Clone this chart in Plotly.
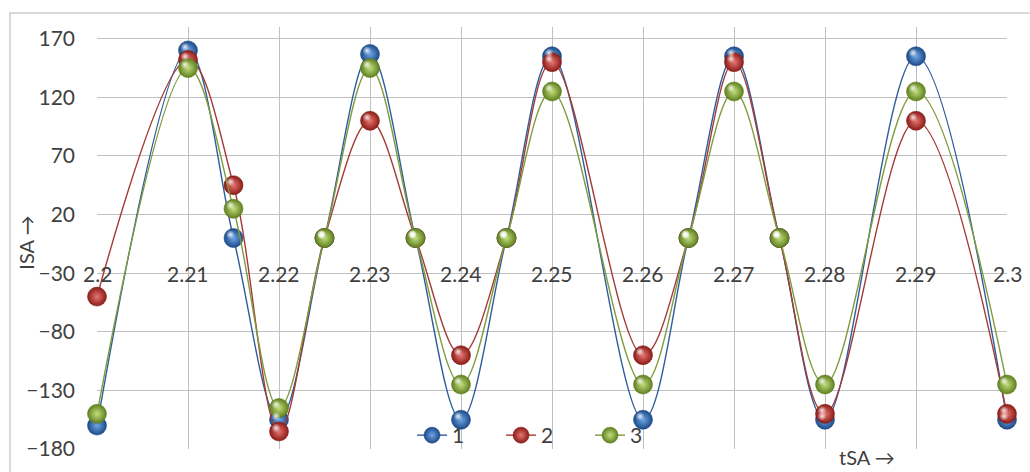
import plotly.graph_objects as go

# Sample times (s) and currents for the three phases
t_sa = [2.2, 2.21, 2.215, 2.22, 2.225, 2.23, 2.235, 2.24, 2.245, 2.25,
        2.26, 2.265, 2.27, 2.275, 2.28, 2.29, 2.3]
i_phase1 = [-160, 160, 0, -155, 0, 157, 0, -155, 0, 155,
            -155, 0, 155, 0, -155, 155, -155]
i_phase2 = [-50, 152, 45, -165, 0, 100, 0, -100, 0, 150,
            -100, 0, 150, 0, -150, 100, -150]
i_phase3 = [-150, 145, 25, -145, 0, 145, 0, -125, 0, 125,
            -125, 0, 125, 0, -125, 125, -125]

series_names = ["1", "2", "3"]
x_ticks = [2.2, 2.21, 2.22, 2.23, 2.24, 2.25, 2.26, 2.27, 2.28, 2.29, 2.3]
x_tick_labels = ["2.2", "2.21", "2.22", "2.23", "2.24", "2.25",
                 "2.26", "2.27", "2.28", "2.29", "2.3"]
y_ticks = [-180, -130, -80, -30, 20, 70, 120, 170]

X_RANGE = [2.2, 2.3]
Y_RANGE = [-180, 180]

FONT = "Lato"
TEXT_COLOR = "#404040"

# line colour, sphere edge colour, sphere centre colour
styles = [
    ("#2F5D9B", "#1C4A88", "#6FA6E6"),
    ("#A33A36", "#8A1C18", "#E87570"),
    ("#7F9B3C", "#5F8020", "#C2DE7C"),
]

fig = go.Figure()
for name, ys, (lc, edge, centre) in zip(series_names,
                                        [i_phase1, i_phase2, i_phase3], styles):
    fig.add_trace(go.Scatter(
        x=t_sa, y=ys, name=name, mode="lines+markers", cliponaxis=False,
        line=dict(color=lc, width=1.4, shape="spline", smoothing=1),
        marker=dict(size=19, color=edge,
                    gradient=dict(type="radial", color=centre),
                    line=dict(width=0.6, color=edge)),
    ))
    # glossy highlight on each sphere, drawn on a slightly shifted overlay
    # axis pair so it sits towards the upper-left of the marker
    fig.add_trace(go.Scatter(
        x=t_sa, y=ys, mode="markers", showlegend=False, hoverinfo="skip",
        xaxis="x2", yaxis="y2", cliponaxis=False,
        marker=dict(size=9, color="rgba(255,255,255,0)",
                    gradient=dict(type="radial",
                                  color="rgba(255,255,255,0.85)"),
                    line=dict(width=0)),
    ))

# Time labels sit on the -30 grid line
for xv, lab in zip(x_ticks, x_tick_labels):
    fig.add_annotation(x=xv, y=-30, xref="x", yref="y", text=lab,
                       showarrow=False, xanchor="center", yanchor="middle",
                       font=dict(family=FONT, size=21, color=TEXT_COLOR))

fig.add_annotation(x=-0.0775, y=0.49, xref="paper", yref="paper",
                   text="ISA →", textangle=-90, showarrow=False,
                   xanchor="center", yanchor="middle",
                   font=dict(family=FONT, size=20, color=TEXT_COLOR))
fig.add_annotation(x=0.846, y=-0.019, xref="paper", yref="paper",
                   text="tSA →", showarrow=False,
                   xanchor="center", yanchor="middle",
                   font=dict(family=FONT, size=20, color=TEXT_COLOR))

# chart-area frame
fig.add_shape(type="rect", xref="paper", yref="paper",
              x0=-0.0956, x1=1.2, y0=-0.2, y1=1.033,
              line=dict(color="#CCCCCC", width=1.5), layer="below")

# highlight offset: about 3 px left and 3 px up
dx = 3.0 / 910 * (X_RANGE[1] - X_RANGE[0])
dy = 3.5 / 425 * (Y_RANGE[1] - Y_RANGE[0])

fig.update_layout(
    width=1030, height=472,
    margin=dict(l=97, r=23, t=27, b=20),
    paper_bgcolor="white", plot_bgcolor="white",
    font=dict(family=FONT, size=21, color=TEXT_COLOR),
    showlegend=True,
    legend=dict(orientation="h", x=0.3462, y=0.032, xanchor="left",
                yanchor="middle", bgcolor="rgba(0,0,0,0)",
                font=dict(family=FONT, size=21, color=TEXT_COLOR),
                entrywidth=44, entrywidthmode="pixels", tracegroupgap=0),
    xaxis=dict(range=X_RANGE, tickvals=x_ticks, showticklabels=False,
               showgrid=True, gridcolor="#BFBFBF", gridwidth=1,
               zeroline=False, showline=False, ticks=""),
    yaxis=dict(range=Y_RANGE, tickvals=y_ticks, showgrid=True,
               gridcolor="#BFBFBF", gridwidth=1, zeroline=False,
               showline=False, ticks="", ticklabelstandoff=21,
               tickfont=dict(family=FONT, size=21, color=TEXT_COLOR)),
    xaxis2=dict(range=[X_RANGE[0] + dx, X_RANGE[1] + dx], overlaying="x",
                visible=False, showgrid=False),
    yaxis2=dict(range=[Y_RANGE[0] - dy, Y_RANGE[1] - dy], overlaying="y",
                visible=False, showgrid=False),
)

fig.write_html("out.html")
